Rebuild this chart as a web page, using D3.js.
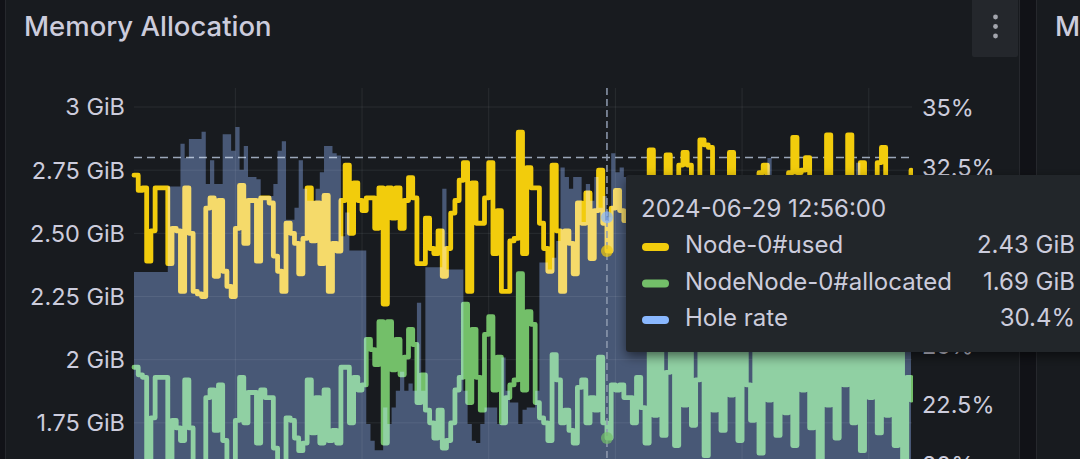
<!DOCTYPE html>
<html><head><meta charset="utf-8">
<script src="https://cdn.jsdelivr.net/npm/d3@7"></script>
<style>
html,body{margin:0;padding:0;background:#111217;overflow:hidden}
svg{display:block;font-family:Inter,"Noto Sans",sans-serif}
</style></head><body>
<svg id="chart" width="1080" height="459"></svg>
<script>
const panelTitle = "Memory Allocation";
const nextPanelTitle = "M";
const seriesNames = ["Node-0#used", "NodeNode-0#allocated", "Hole rate"];
const seriesColors = ["#F2CC0C", "#73BF69", "#8AB8FF"];
const startTime = "2024-06-29T09:12:00";
const stepMinutes = 2;
const hoverTime = "2024-06-29T12:56:00";
const thresholdGiB = 2.8;

const usedGiB = [
 2.73,2.67,2.68,2.39,2.51,2.68,2.68,2.68,2.38,2.52,
 2.51,2.27,2.68,2.50,2.27,2.26,2.25,2.60,2.64,2.33,
 2.63,2.35,2.29,2.25,2.52,2.69,2.46,2.63,2.63,2.39,
 2.64,2.64,2.62,2.41,2.35,2.27,2.54,2.50,2.46,2.34,
 2.48,2.68,2.47,2.62,2.38,2.65,2.27,
 2.46,2.43,2.63,2.77,2.50,2.70,2.63,2.59,2.64,2.64,
 2.52,2.68,2.22,2.68,2.56,2.68,2.52,2.63,2.72,2.64,
 2.38,2.38,2.56,2.44,2.42,2.51,2.33,2.44,2.58,2.63,
 2.71,2.78,2.27,2.70,2.54,2.54,2.64,2.78,2.42,2.59,
 2.27,2.27,2.47,2.48,2.90,2.42,
 2.76,2.68,2.68,2.54,2.44,2.35,2.77,2.51,2.27,2.51,
 2.46,2.34,2.62,2.54,2.66,2.40,2.59,2.75,2.54,2.43,
 2.60,2.67,2.59,2.55,
 2.55,2.40,2.62,2.48,2.35,2.83,2.50,2.42,2.60,2.81,
 2.45,2.38,2.77,2.82,2.77,2.52,2.44,2.87,2.85,2.84,
 2.50,2.40,2.58,2.45,2.82,2.55,2.36,2.48,2.62,2.42,
 2.55,2.74,2.77,2.50,2.60,2.38,2.52,2.45,2.74,2.88,
 2.74,2.75,2.80,2.48,2.40,2.58,2.35,2.89,2.52,2.44,
 2.60,2.38,2.89,2.50,2.62,2.78,2.45,2.55,2.40,2.78,
 2.84,2.50,2.42,2.60,2.38,2.55,2.48,2.75
];

const allocatedGiB = [
 1.97,1.94,1.93,1.58,1.77,1.93,1.93,1.93,1.58,1.76,
 1.73,1.68,1.92,1.73,1.58,1.58,1.58,1.85,1.88,1.72,
 1.90,1.68,1.58,1.58,1.76,1.93,1.75,1.87,1.87,1.67,
 1.88,1.85,1.85,1.65,1.58,1.58,1.77,1.76,1.69,1.64,
 1.67,1.92,1.71,1.85,1.67,1.88,1.68,
 1.72,1.67,1.97,1.97,1.75,1.93,1.88,1.90,2.08,2.04,
 1.98,2.15,1.67,2.15,1.96,2.08,1.94,2.01,2.12,2.06,
 1.83,1.94,1.80,1.75,1.69,1.80,1.65,1.68,1.75,1.88,
 1.93,2.22,1.83,2.12,1.93,1.80,2.10,2.17,1.88,2.01,
 1.75,1.85,1.90,1.92,2.34,1.88,
 2.19,2.14,1.83,1.77,1.75,1.68,2.02,1.92,1.75,1.80,
 1.72,1.67,1.89,1.92,1.75,1.85,1.80,2.01,1.75,1.69,
 1.90,1.88,1.90,1.85,1.85,1.75,1.93,1.81,1.67,
 2.05,1.78,2.08,1.70,1.95,2.06,1.66,2.04,1.82,2.07,
 1.74,1.92,2.05,1.62,2.06,1.80,2.04,1.72,2.08,1.86,
 2.05,1.68,2.06,1.90,1.76,2.05,1.63,2.07,1.84,2.04,
 1.70,2.06,1.79,2.05,1.66,2.08,1.88,2.04,1.73,2.05,
 1.60,2.06,1.82,2.04,1.69,2.07,1.90,2.05,1.75,2.06,
 1.64,2.04,1.85,2.05,1.71,2.06,1.78,2.04,1.66,2.05,
 1.58,1.93,1.84
];

const holeRatePct = [
 28.1,28.1,28.1,28.1,28.1,28.1,28.1,28.1,31.7,31.7,
 31.7,33.5,32.9,33.7,33.7,33.7,34.0,31.8,32.8,31.8,
 31.8,33.9,33.9,33.2,34.2,32.4,33.4,32.1,32.1,32.0,
 31.3,31.3,31.3,31.8,33.2,33.6,30.3,30.3,30.8,32.8,
 31.6,31.1,31.1,31.6,32.3,33.4,33.4,
 33.1,33.0,29.6,30.6,29.0,29.0,29.0,29.0,21.7,21.0,
 20.6,20.6,22.4,21.7,22.4,23.1,23.9,23.1,23.4,23.1,
 26.8,23.1,28.3,28.3,28.3,28.3,31.6,28.2,28.2,28.2,
 28.2,23.1,21.7,21.0,20.9,21.7,22.4,22.4,22.4,21.7,
 24.5,23.1,22.6,22.6,21.7,22.3,
 22.4,22.4,23.1,28.5,28.5,28.2,28.7,29.4,32.5,32.1,
 31.6,32.1,32.1,30.2,31.8,31.1,32.1,30.8,31.3,30.4,
 33.1,32.3,32.5,32.1,
 31.0,30.2,31.5,29.8,30.6,31.2,29.5,30.8,31.4,30.0,
 29.2,30.9,31.6,30.3,29.7,31.1,30.5,29.9,31.3,30.7,
 29.4,30.2,31.0,30.6,29.8,31.5,30.1,30.9,31.2,29.6,
 30.4,31.7,31.9,32.9,31.0,30.3,29.9,31.4,30.8,30.1,
 31.2,29.7,30.5,31.3,30.0,29.5,30.9,31.6,30.2,29.8,
 31.1,30.6,29.4,31.0,32.7,31.5,30.4,29.9,31.2,30.7,
 30.0,31.4,29.6,30.8,31.1,30.3,29.8,31.0
];

const leftTicks = [1.75, 2, 2.25, 2.5, 2.75, 3];
const leftTickLabels = ["1.75 GiB", "2 GiB", "2.25 GiB", "2.50 GiB", "2.75 GiB", "3 GiB"];
const rightTicks = [20, 22.5, 25, 27.5, 30, 32.5, 35];
const rightTickLabels = ["20%", "22.5%", "25%", "27.5%", "30%", "32.5%", "35%"];

// ---------- layout ----------
const W = 1080, H = 459;
const plot = {left: 134, right: 911, top: 88, bottom: 500};
const tip = {x: 626, y: 175, w: 480, h: 177};
const parse = d3.isoParse;
const t0 = parse(startTime);
const times = usedGiB.map((_, i) => d3.timeMinute.offset(t0, i * stepMinutes));
const tEnd = times[times.length - 1];

const x = d3.scaleTime().domain([t0, tEnd]).range([plot.left, plot.right]);
const yL = d3.scaleLinear().domain([1.5, 3]).range([486, 107]);
const yR = d3.scaleLinear().domain([20, 35]).range([464.4, 108]);

const svg = d3.select("#chart");
const TXT = "#ccccdc";
const PANEL = "#181b1f";
const AX_FS = 23.5, TIP_FS = 24;

svg.append("defs").html(`
  <clipPath id="plotClip"><rect x="${plot.left - 3}" y="${plot.top}" width="${plot.right - plot.left + 5}" height="${plot.bottom - plot.top}"/></clipPath>
  <filter id="shadow" x="-10%" y="-20%" width="130%" height="150%">
    <feDropShadow dx="0" dy="4" stdDeviation="6" flood-color="#000" flood-opacity="0.55"/>
  </filter>`);

// panels
svg.append("rect").attr("x", 0).attr("y", 0).attr("width", W).attr("height", H).attr("fill", "#111217");
svg.append("rect").attr("x", 5.5).attr("y", -10).attr("width", 1014).attr("height", H + 20)
  .attr("rx", 3).attr("fill", PANEL).attr("stroke", "rgba(204,204,220,0.10)");
svg.append("rect").attr("x", 1036.5).attr("y", -10).attr("width", 100).attr("height", H + 20)
  .attr("rx", 3).attr("fill", PANEL).attr("stroke", "rgba(204,204,220,0.10)");

// titles
svg.append("text").attr("x", 24).attr("y", 36).attr("font-size", 27.5).attr("font-weight", 500)
  .attr("fill", TXT).text(panelTitle);
svg.append("text").attr("x", 1055).attr("y", 36).attr("font-size", 27.5).attr("font-weight", 500)
  .attr("fill", TXT).text(nextPanelTitle);

// menu button
svg.append("rect").attr("x", 972).attr("y", -4).attr("width", 46).attr("height", 61).attr("rx", 2)
  .attr("fill", "#24272c");
[17, 26.5, 36].forEach(cy => svg.append("circle").attr("cx", 995.5).attr("cy", cy).attr("r", 2.4).attr("fill", "#a3a5ad"));

// axis labels
const g = svg.append("g");
g.selectAll("text.l").data(leftTicks).join("text")
  .attr("x", 125).attr("y", d => yL(d)).attr("dy", "0.36em")
  .attr("text-anchor", "end").attr("font-size", AX_FS).attr("fill", TXT)
  .text((d, i) => leftTickLabels[i]);
// right labels that are entirely hidden behind the tooltip are not drawn
const rightVisible = rightTicks.map((d, i) => ({d, label: rightTickLabels[i]}))
  .filter(o => !(yR(o.d) - 10 > tip.y && yR(o.d) + 10 < tip.y + tip.h));
g.selectAll("text.r").data(rightVisible).join("text")
  .attr("x", 922).attr("y", o => yR(o.d)).attr("dy", "0.36em")
  .attr("text-anchor", "start").attr("font-size", AX_FS).attr("fill", TXT)
  .text(o => o.label);

// plot group: own background so that the screened area blends against it
const plotG = svg.append("g").attr("clip-path", "url(#plotClip)");
plotG.append("rect").attr("x", plot.left - 3).attr("y", plot.top)
  .attr("width", plot.right - plot.left + 5).attr("height", plot.bottom - plot.top).attr("fill", PANEL);

// grid
plotG.selectAll("line.h").data(leftTicks).join("line")
  .attr("x1", plot.left).attr("x2", plot.right + 1)
  .attr("y1", d => yL(d)).attr("y2", d => yL(d))
  .attr("stroke", "rgba(240,250,255,0.08)").attr("stroke-width", 1);
plotG.selectAll("line.v").data(x.ticks(d3.timeHour.every(1))).join("line")
  .attr("x1", d => x(d)).attr("x2", d => x(d))
  .attr("y1", plot.top).attr("y2", plot.bottom)
  .attr("stroke", "rgba(240,250,255,0.08)").attr("stroke-width", 1);

// threshold
plotG.append("line").attr("x1", plot.left).attr("x2", plot.right)
  .attr("y1", yL(thresholdGiB)).attr("y2", yL(thresholdGiB))
  .attr("stroke", "#9aa6b8").attr("stroke-width", 1.6).attr("stroke-dasharray", "8,5");

// lines
const lineL = d3.line().curve(d3.curveStepAfter).x((d, i) => x(times[i])).y(d => yL(d));
plotG.append("path").datum(usedGiB).attr("d", lineL).attr("fill", "none")
  .attr("stroke", seriesColors[0]).attr("stroke-width", 4.8)
  .attr("stroke-linejoin", "round").attr("stroke-linecap", "round");
plotG.append("path").datum(allocatedGiB).attr("d", lineL).attr("fill", "none")
  .attr("stroke", seriesColors[1]).attr("stroke-width", 4.8)
  .attr("stroke-linejoin", "round").attr("stroke-linecap", "round");

// hole rate area (right axis), screened over the lines
const areaR = d3.area().curve(d3.curveStepAfter).x((d, i) => x(times[i]))
  .y0(plot.bottom).y1(d => yR(d));
plotG.append("path").datum(holeRatePct).attr("d", areaR)
  .attr("fill", "#354463").style("mix-blend-mode", "screen");

// crosshair
const hT = parse(hoverTime);
const hi = d3.bisector(d => d).left(times, hT);
const hx = x(times[hi]);
svg.append("line").attr("x1", hx).attr("x2", hx).attr("y1", plot.top).attr("y2", H)
  .attr("stroke", "#8f9bb0").attr("stroke-width", 1.5).attr("stroke-dasharray", "7,4");
const hoverVals = [yL(usedGiB[hi]), yL(allocatedGiB[hi]), yR(holeRatePct[hi])];
hoverVals.forEach((cy, k) => {
  svg.append("circle").attr("cx", hx).attr("cy", cy).attr("r", 6)
    .attr("fill", seriesColors[k]).attr("fill-opacity", 0.7);
});

// tooltip
const tt = svg.append("g");
tt.append("rect").attr("x", tip.x).attr("y", tip.y).attr("width", tip.w).attr("height", tip.h)
  .attr("rx", 3).attr("fill", "#22252b").attr("filter", "url(#shadow)");
tt.append("text").attr("x", 641).attr("y", 217).attr("font-size", TIP_FS).attr("fill", TXT)
  .text(d3.timeFormat("%Y-%m-%d %H:%M:%S")(times[hi]));
const fmtG = v => d3.format(".2f")(v) + " GiB";
const fmtP = v => d3.format(".1f")(v) + "%";
const rows = [
  {name: seriesNames[0], color: seriesColors[0], val: fmtG(usedGiB[hi])},
  {name: seriesNames[1], color: seriesColors[1], val: fmtG(allocatedGiB[hi])},
  {name: seriesNames[2], color: seriesColors[2], val: fmtP(holeRatePct[hi])}
];
rows.forEach((r, k) => {
  const base = 253 + k * 36.5;
  tt.append("rect").attr("x", 642).attr("y", base - 10).attr("width", 27).attr("height", 8)
    .attr("rx", 4).attr("fill", r.color);
  tt.append("text").attr("x", 685).attr("y", base).attr("font-size", TIP_FS).attr("fill", TXT).text(r.name);
  tt.append("text").attr("x", 1075).attr("y", base).attr("font-size", TIP_FS).attr("fill", TXT)
    .attr("text-anchor", "end").text(r.val);
});
</script>
</body></html>
